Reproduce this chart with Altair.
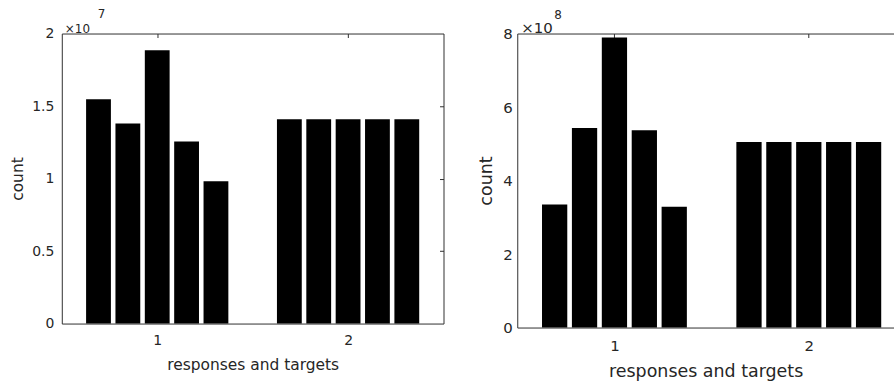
import altair as alt
import pandas as pd

# ---- data ----
groups = [1, 1, 1, 1, 1, 2, 2, 2, 2, 2]
slots = [1, 2, 3, 4, 5, 1, 2, 3, 4, 5]
left_counts = [1.546, 1.379, 1.885, 1.256, 0.981, 1.409, 1.409, 1.409, 1.409, 1.409]   # x 1e7
right_counts = [3.35, 5.43, 7.89, 5.37, 3.29, 5.05, 5.05, 5.05, 5.05, 5.05]            # x 1e8
left_yticks = [0, 0.5, 1, 1.5, 2]
right_yticks = [0, 2, 4, 6, 8]
x_ticks = [1, 2]
left_exp = ["7"]
right_exp = ["8"]
times_ten = ["×10"]
x_title = "responses and targets"
y_title = "count"

SLOT = 0.7692 / 5
HALF = 0.065
TXT = "#262626"
AX = "#303030"


def panel(values, yticks, ymax, xmax, width, height, tick_fs, title_fs,
          lab_pad_x, lab_pad_y, tpad_x, tpad_y, exp_fs, sup_fs, exp_pos, right_axis):
    df = pd.DataFrame({"group": groups, "slot": slots, "count": values})
    base = alt.Chart(df).transform_calculate(
        x0=f"datum.group + (datum.slot - 3) * {SLOT} - {HALF}",
        x1=f"datum.group + (datum.slot - 3) * {SLOT} + {HALF}",
        zero="0",
    )
    xs = alt.Scale(domain=[0.5, xmax], nice=False, zero=False)
    ys = alt.Scale(domain=[0, ymax], nice=False)
    bars = base.mark_rect(color="black").encode(
        x=alt.X("x0:Q", scale=xs, axis=alt.Axis(
            values=x_ticks, format="d", title=x_title, ticks=False, tickSize=0,
            labelFont="DejaVu Sans", labelFontSize=tick_fs, labelColor=TXT,
            labelPadding=lab_pad_x, titleFont="DejaVu Sans", titleFontSize=title_fs,
            titleFontWeight="normal", titleColor=TXT, titlePadding=tpad_x,
            domainColor=AX, grid=False)),
        x2="x1:Q",
        y=alt.Y("count:Q", scale=ys, axis=alt.Axis(
            values=yticks, format="~g", title=y_title, ticks=False, tickSize=0,
            labelFont="DejaVu Sans", labelFontSize=tick_fs, labelColor=TXT,
            labelPadding=lab_pad_y, titleFont="DejaVu Sans", titleFontSize=title_fs,
            titleFontWeight="normal", titleColor=TXT, titlePadding=tpad_y,
            domainColor=AX, grid=False, labelFlush=False)),
        y2="zero:Q",
    )
    if right_axis:
        yframe = alt.Y("count:Q", scale=ys, axis=alt.Axis(
            orient="right", values=yticks[1:-1], labels=False, title=None,
            tickSize=alt.ExprRef(expr="-4"), tickColor=AX, domainColor=AX, grid=False))
    else:
        yframe = alt.Y("count:Q", scale=ys, axis=None)
    frame = base.mark_rect(opacity=0).encode(
        x=alt.X("x0:Q", scale=xs, axis=alt.Axis(
            orient="top", values=x_ticks, labels=False, title=None,
            tickSize=alt.ExprRef(expr="-4"), tickColor=AX, domainColor=AX, grid=False)),
        x2="x1:Q",
        y=yframe,
        y2="zero:Q",
    )
    tdf = pd.DataFrame({"t": times_ten})
    ten = alt.Chart(tdf).mark_text(
        align="left", baseline="alphabetic", font="DejaVu Sans", fontSize=exp_fs, color=TXT
    ).encode(x=alt.value(exp_pos[0]), y=alt.value(exp_pos[1]), text="t:N")
    edf = pd.DataFrame({"e": exp_pos[4]})
    sup = alt.Chart(edf).mark_text(
        align="left", baseline="alphabetic", font="DejaVu Sans", fontSize=sup_fs, color=TXT
    ).encode(x=alt.value(exp_pos[2]), y=alt.value(exp_pos[3]), text="e:N")
    return alt.layer(bars, frame, ten, sup).resolve_axis(
        x="independent", y="independent"
    ).properties(width=width, height=height)


left = panel(left_counts, left_yticks, 2, 2.5, 383, 291, 14, 15.5,
             10, 8, 10, 6, 12, 12, (3, -1, 36, -16, left_exp), True)
right = panel(right_counts, right_yticks, 8, 0.5 + 378 / 195, 378, 295, 15, 17.5,
              11, 5, 9, 7, 15, 12, (4, -1, 37, -15, right_exp), False)

chart = alt.hconcat(left, right, spacing=33).properties(
    padding={"left": 10, "top": 7, "right": 0, "bottom": 0}
).configure_view(stroke=None)

chart.save("out.html", embed_options={"renderer": "svg", "actions": False})
